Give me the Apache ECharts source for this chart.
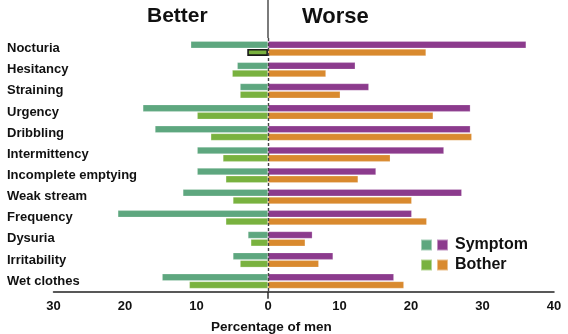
<!DOCTYPE html>
<html>
<head>
<meta charset="utf-8">
<script src="https://cdn.jsdelivr.net/npm/echarts@6/dist/echarts.min.js"></script>
<style>
  html, body { margin: 0; padding: 0; background: #fff; }
  #chart { width: 568px; height: 334px; }
</style>
</head>
<body>
<div id="chart"></div>
<script>
// Urinary symptoms: share of men reporting improvement (left) or worsening (right)
const categories = ['Nocturia', 'Hesitancy', 'Straining', 'Urgency', 'Dribbling', 'Intermittency',
  'Incomplete emptying', 'Weak stream', 'Frequency', 'Dysuria', 'Irritability', 'Wet clothes'];
const symptomBetter = [10.8, 4.3, 3.9, 17.5, 15.8, 9.9, 9.9, 11.9, 21.0, 2.8, 4.9, 14.8];
const botherBetter  = [2.9, 5.0, 3.9, 9.9, 8.0, 6.3, 5.9, 4.9, 5.9, 2.4, 3.9, 11.0];
const symptomWorse  = [36.1, 12.2, 14.1, 28.3, 28.3, 24.6, 15.1, 27.1, 20.1, 6.2, 9.1, 17.6];
const botherWorse   = [22.1, 8.1, 10.1, 23.1, 28.5, 17.1, 12.6, 20.1, 22.2, 5.2, 7.1, 19.0];
const xTicks = { min: -30, max: 40, step: 10 };
const highlighted = 'Nocturia'; // outlined bother bar on the "better" side

const COLORS = {
  symBetter: '#5ea77f',
  botBetter: '#79b23f',
  symWorse: '#8c3b8d',
  botWorse: '#d98a2f'
};
const FONT = '"Liberation Sans", Arial, Helvetica, sans-serif';
const barBorder = 'rgba(255,255,255,0.45)';

function series(name, values, color, stack, negate) {
  return {
    name: name,
    type: 'bar',
    stack: stack,
    barWidth: 7,
    barGap: '10%',
    itemStyle: { color: color, borderColor: barBorder, borderWidth: 0.5 },
    emphasis: { disabled: true },
    data: values.map(function (v, i) {
      const item = { value: negate ? -v : v };
      if (negate && stack === 'bother' && categories[i] === highlighted) {
        item.itemStyle = { borderColor: '#1a1a1a', borderWidth: 1.6 };
      }
      return item;
    })
  };
}

const chart = echarts.init(document.getElementById('chart'), null, { renderer: 'canvas' });

const labelNames = {
  'Symptom (worse)': 'Symptom',
  'Bother (worse)': 'Bother'
};

chart.setOption({
  animation: false,
  textStyle: { fontFamily: FONT },
  grid: { left: 53.5, right: 14, top: 38, bottom: 42.3, containLabel: false },
  title: [
    { text: 'Better', left: 142, top: 1,
      textStyle: { fontSize: 21, fontWeight: 'bold', color: '#111', fontFamily: FONT } },
    { text: 'Worse', left: 297, top: 1,
      textStyle: { fontSize: 22, fontWeight: 'bold', color: '#111', fontFamily: FONT } },
    { text: 'Percentage of men', left: 206, top: 315,
      textStyle: { fontSize: 13.5, fontWeight: 'bold', color: '#111', fontFamily: FONT } }
  ],
  legend: [
    {
      data: ['Symptom (better)', 'Bother (better)'],
      orient: 'vertical', left: 415, top: 232,
      itemWidth: 11, itemHeight: 11, itemGap: 4, icon: 'rect',
      formatter: function () { return ' '; },
      textStyle: { fontSize: 16, fontWeight: 'bold', color: '#111', fontFamily: FONT },
      selectedMode: false
    },
    {
      data: ['Symptom (worse)', 'Bother (worse)'],
      orient: 'vertical', left: 431, top: 232,
      itemWidth: 11, itemHeight: 11, itemGap: 4, icon: 'rect',
      formatter: function (name) { return labelNames[name]; },
      textStyle: { fontSize: 16, fontWeight: 'bold', color: '#111', fontFamily: FONT, padding: [0, 0, 0, 2] },
      selectedMode: false
    }
  ],
  xAxis: {
    type: 'value',
    min: xTicks.min, max: xTicks.max, interval: xTicks.step,
    splitLine: { show: false },
    axisLine: { show: true, onZero: false, lineStyle: { color: '#222', width: 1.5 } },
    axisTick: { show: false },
    axisLabel: {
      margin: 8, color: '#111', fontSize: 13, fontWeight: 'bold', fontFamily: FONT,
      formatter: function (v) { return String(Math.abs(v)); }
    }
  },
  yAxis: {
    type: 'category',
    data: categories,
    inverse: true,
    axisLine: { show: false },
    axisTick: { show: false },
    splitLine: { show: false },
    axisLabel: {
      align: 'left', margin: 46.5, color: '#111',
      fontSize: 13, fontWeight: 'bold', fontFamily: FONT
    }
  },
  series: [
    Object.assign(series('Symptom (better)', symptomBetter, COLORS.symBetter, 'symptom', true), {
      markLine: {
        silent: true, symbol: 'none', label: { show: false },
        lineStyle: { color: '#444', width: 1.4, type: [3, 2] },
        data: [{ xAxis: 0 }]
      }
    }),
    series('Bother (better)', botherBetter, COLORS.botBetter, 'bother', true),
    series('Symptom (worse)', symptomWorse, COLORS.symWorse, 'symptom', false),
    series('Bother (worse)', botherWorse, COLORS.botWorse, 'bother', false)
  ]
});

// Solid extension of the zero line above the plot, and a short tick below the axis
const gridRect = chart.getModel().getComponent('grid').coordinateSystem.getRect();
const x0 = chart.convertToPixel({ xAxisIndex: 0 }, 0);
chart.setOption({
  graphic: [
    { type: 'line', silent: true, z: 10,
      shape: { x1: x0, y1: 0, x2: x0, y2: gridRect.y },
      style: { stroke: '#444', lineWidth: 1.4 } },
    { type: 'line', silent: true, z: 10,
      shape: { x1: x0, y1: gridRect.y + gridRect.height, x2: x0, y2: gridRect.y + gridRect.height + 7 },
      style: { stroke: '#222', lineWidth: 1.4 } }
  ]
});
</script>
</body>
</html>
